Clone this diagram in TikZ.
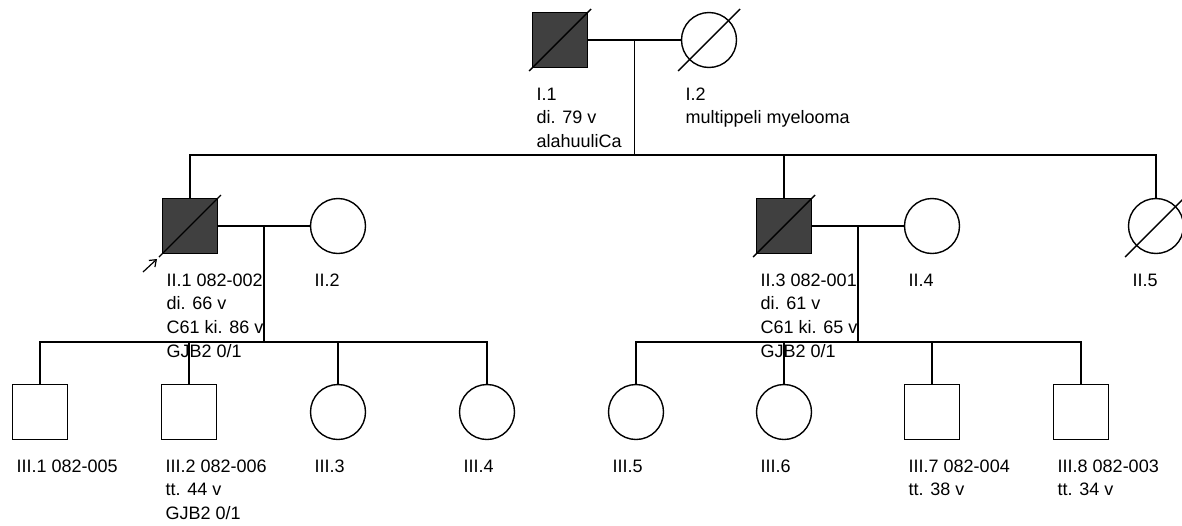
\documentclass[tikz,border=0pt]{standalone}
\usepackage{fontspec}
\setmainfont{Liberation Sans}
\usetikzlibrary{arrows.meta, calc}
\definecolor{cdark}{HTML}{404040}
\tikzset{
  every picture/.style={line width=1.4pt},
  person/.style={draw, minimum size=55pt, inner sep=0pt},
  male/.style={person, rectangle},
  female/.style={person, circle},
  affected/.style={fill=cdark},
  lbl/.style={anchor=north west, inner sep=0pt, align=left, font=\fontsize{18}{23.7}\selectfont},
  proband/.style={-{Straight Barb[length=6pt, width=9pt]}, line width=1.2pt},
}
\newcommand{\deceased}[1]{\draw ([shift={(-31,31)}]#1.center) -- ([shift={(31,-31)}]#1.center);}

\begin{document}
\begin{tikzpicture}[x=1pt, y=-1pt]
  \clip (0,0) rectangle (1182,525);
  % generation I
  \node[male, affected] (i1) at (560,40) {};
  \node[female] (i2) at (709,40) {};
  \deceased{i1} \deceased{i2}
  \node[lbl] (li1) at ([shift={(-24,47)}]i1) {I.1\\di. 79 v\\alahuuliCa};
  \node[lbl] (li2) at ([shift={(-24,47)}]i2) {I.2\\multippeli myelooma};
  \draw (i1) -- (i2);
  \coordinate (m1) at ($(i1)!0.5!(i2)$);
  \coordinate (s1) at ($(m1)+(0,115)$);

  % generation II
  \node[male, affected] (ii1) at (190,226) {};
  \node[female] (ii2) at (338,226) {};
  \node[male, affected] (ii3) at (784,226) {};
  \node[female] (ii4) at (932,226) {};
  \node[female] (ii5) at (1156,226) {};
  \deceased{ii1} \deceased{ii3} \deceased{ii5}
  \node[lbl] (lii1) at ([shift={(-24,47)}]ii1) {II.1 082-002\\di. 66 v\\C61 ki. 86 v\\GJB2 0/1};
  \node[lbl] (lii2) at ([shift={(-24,47)}]ii2) {II.2};
  \node[lbl] (lii3) at ([shift={(-24,47)}]ii3) {II.3 082-001\\di. 61 v\\C61 ki. 65 v\\GJB2 0/1};
  \node[lbl] (lii4) at ([shift={(-24,47)}]ii4) {II.4};
  \node[lbl] (lii5) at ([shift={(-24,47)}]ii5) {II.5};
  \draw (m1) -- (s1);
  \draw (ii1) -- (ii1 |- s1) -- (ii5 |- s1) -- (ii5);
  \draw (ii3) -- (ii3 |- s1);
  \coordinate (pa) at ([shift={(-47,46)}]ii1);
  \coordinate (pb) at ([shift={(-33,33)}]ii1);
  \draw[proband] (pa) -- (pb);
  \draw (ii1) -- (ii2);
  \draw (ii3) -- (ii4);
  \coordinate (m2) at ($(ii1)!0.5!(ii2)$);
  \coordinate (s2) at ($(m2)+(0,116)$);
  \coordinate (m3) at ($(ii3)!0.5!(ii4)$);
  \coordinate (s3) at ($(m3)+(0,116)$);

  % generation III
  \foreach \n/\x/\s/\t in {iii1/40/male/{III.1 082-005},
                           iii2/189/male/{III.2 082-006\\tt. 44 v\\GJB2 0/1},
                           iii3/338/female/{III.3},
                           iii4/487/female/{III.4},
                           iii5/636/female/{III.5},
                           iii6/784/female/{III.6},
                           iii7/932/male/{III.7 082-004\\tt. 38 v},
                           iii8/1081/male/{III.8 082-003\\tt. 34 v}} {
    \node[\s] (\n) at (\x,412) {};
    \node[lbl] (l\n) at ([shift={(-24,47)}]\n) {\t};
  }
  \draw (m2) -- (s2);
  \draw (iii1) -- (iii1 |- s2) -- (iii4 |- s2) -- (iii4);
  \foreach \c in {iii2, iii3} \draw (\c) -- (\c |- s2);
  \draw (m3) -- (s3);
  \draw (iii5) -- (iii5 |- s3) -- (iii8 |- s3) -- (iii8);
  \foreach \c in {iii6, iii7} \draw (\c) -- (\c |- s3);
\end{tikzpicture}
\end{document}
